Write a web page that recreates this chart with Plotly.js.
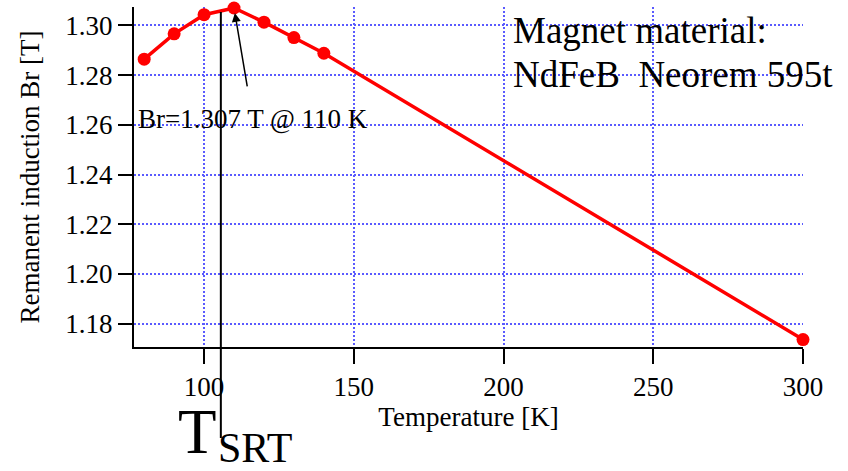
<!DOCTYPE html>
<html>
<head>
<meta charset="utf-8">
<script src="https://cdn.plot.ly/plotly-3.0.1.min.js"></script>
<style>html,body{margin:0;padding:0;background:#fff}#chart{width:848px;height:471px}</style>
</head>
<body>
<div id="chart"></div>
<script>
// Data
var temperatureK = [80, 90, 100, 110, 120, 130, 140, 300];
var remanenceT   = [1.2864, 1.2966, 1.3043, 1.307, 1.3013, 1.2951, 1.2888, 1.1736];
var xTicks = [100, 150, 200, 250, 300];
var yTicks = [1.18, 1.20, 1.22, 1.24, 1.26, 1.28, 1.30];
var peakT = 110, peakBr = 1.307;
var srtTemperature = 105.6;
var materialLines = ['Magnet material:', 'NdFeB  Neorem 595t'];

var serif = '"Liberation Serif", "Times New Roman", serif';

var trace = {
  x: temperatureK,
  y: remanenceT,
  type: 'scatter',
  mode: 'lines+markers',
  line: {color: '#ff0000', width: 3.5},
  marker: {color: '#ff0000', size: 13},
  cliponaxis: false,
  hoverinfo: 'x+y'
};

var gridStyle = {color: '#5a5aff', width: 2, dash: '2px,2px'};

var layout = {
  width: 848, height: 471,
  margin: {l: 134, r: 45, t: 7, b: 124},
  paper_bgcolor: '#ffffff',
  plot_bgcolor: '#ffffff',
  showlegend: false,
  font: {family: serif, size: 27, color: '#000000'},
  xaxis: {
    range: [76.6, 300],
    tickvals: xTicks,
    ticktext: xTicks.map(String),
    ticks: 'outside', ticklen: 15, tickwidth: 2, tickcolor: '#000',
    showline: true, linecolor: '#000', linewidth: 2, mirror: false,
    showgrid: true, gridcolor: gridStyle.color, gridwidth: gridStyle.width, griddash: gridStyle.dash,
    zeroline: false,
    tickfont: {family: serif, size: 27, color: '#000'},
    title: {text: 'Temperature [K]', font: {family: serif, size: 27, color: '#000'}, standoff: 6}
  },
  yaxis: {
    range: [1.1706, 1.3074],
    tickvals: yTicks,
    ticktext: yTicks.map(function(v){return v.toFixed(2);}),
    ticks: 'outside', ticklen: 14, tickwidth: 2, tickcolor: '#000',
    showline: true, linecolor: '#000', linewidth: 2, mirror: false,
    showgrid: true, gridcolor: gridStyle.color, gridwidth: gridStyle.width, griddash: gridStyle.dash,
    zeroline: false,
    tickfont: {family: serif, size: 27, color: '#000'},
    title: {text: 'Remanent induction Br [T]', font: {family: serif, size: 27, color: '#000'}, standoff: 18}
  },
  shapes: [
    {type: 'line', xref: 'x', yref: 'paper', x0: srtTemperature, x1: srtTemperature,
     y0: 0.985, y1: -0.268, line: {color: '#000', width: 2}}
  ],
  annotations: [
    {xref: 'paper', yref: 'paper', x: 0.5635, y: 0.931, xanchor: 'left', yanchor: 'middle',
     text: materialLines[0], showarrow: false, font: {family: serif, size: 37, color: '#000'}},
    {xref: 'paper', yref: 'paper', x: 0.5635, y: 0.801, xanchor: 'left', yanchor: 'middle',
     text: materialLines[1], showarrow: false, font: {family: serif, size: 37, color: '#000'}},
    {xref: 'paper', yref: 'paper', x: 0.003, y: 0.671, xanchor: 'left', yanchor: 'middle',
     text: 'Br=' + peakBr.toFixed(3) + ' T @ ' + peakT + ' K', showarrow: false,
     font: {family: serif, size: 27, color: '#000'}},
    {xref: 'x', yref: 'y', x: peakT, y: peakBr, text: ' ', showarrow: true,
     axref: 'pixel', ayref: 'pixel', ax: 16, ay: 95, standoff: 5,
     arrowhead: 2, arrowsize: 1.2, arrowwidth: 1.5, arrowcolor: '#000'},
    {xref: 'paper', yref: 'paper', x: 0.0628, y: -0.25, xanchor: 'left', yanchor: 'middle',
     text: 'T', showarrow: false, font: {family: serif, size: 63, color: '#000'}},
    {xref: 'paper', yref: 'paper', x: 0.1226, y: -0.297, xanchor: 'left', yanchor: 'middle',
     text: 'SRT', showarrow: false, font: {family: serif, size: 42, color: '#000'}}
  ]
};

Plotly.newPlot('chart', [trace], layout, {displayModeBar: false, staticPlot: true});
</script>
</body>
</html>
